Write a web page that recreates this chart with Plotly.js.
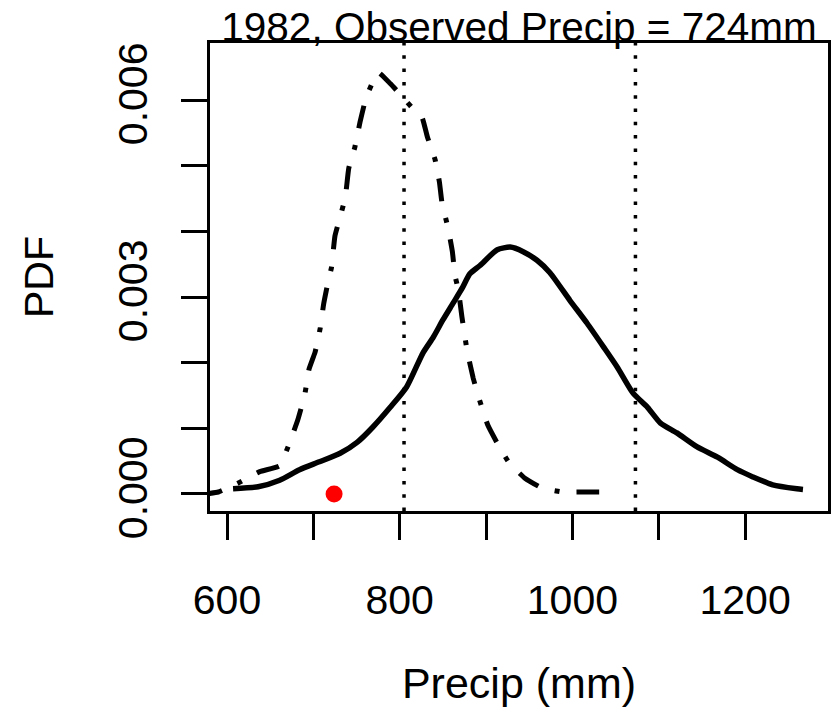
<!DOCTYPE html>
<html>
<head>
<meta charset="utf-8">
<script src="https://cdn.plot.ly/plotly-3.0.1.min.js"></script>
<style>html,body{margin:0;padding:0;background:#fff;}#chart{width:833px;height:718px;}</style>
</head>
<body>
<div id="chart"></div>
<script>
// Solid curve (PDF)
const solidX = [607, 636, 661, 684, 707, 731, 751, 769, 789, 808, 827, 839, 850, 862, 873, 881, 893, 913, 928, 943, 959, 974, 997, 1017, 1036, 1052, 1070, 1087, 1102, 1121, 1144, 1168, 1191, 1209, 1232, 1260, 1267];
const solidY = [0.00008, 0.00011, 0.00021, 0.00037, 0.00049, 0.00062, 0.00079, 0.00102, 0.00132, 0.00163, 0.00215, 0.00239, 0.00265, 0.00291, 0.00315, 0.00335, 0.00348, 0.00372, 0.00376, 0.00369, 0.00356, 0.00337, 0.00295, 0.00260, 0.00224, 0.00193, 0.00154, 0.00132, 0.00108, 0.00093, 0.00072, 0.00056, 0.00037, 0.00026, 0.00014, 0.00008, 0.00007];
// Dash-dot curve
const dashX = [575, 590, 612, 638, 661, 671, 682, 690, 695, 702, 708, 712, 717, 721, 725, 731, 737, 741, 748, 754, 761, 775, 789, 803, 820, 826, 832, 841, 846, 849, 856, 861, 864, 868, 872, 878, 885, 892, 902, 914, 927, 945, 965, 989, 1017, 1044];
const dashY = [0.00000, 0.00003, 0.00016, 0.00034, 0.00043, 0.00073, 0.00113, 0.00151, 0.00190, 0.00216, 0.00253, 0.00290, 0.00323, 0.00345, 0.00393, 0.00422, 0.00452, 0.00496, 0.00528, 0.00566, 0.00603, 0.00642, 0.00625, 0.00605, 0.00580, 0.00573, 0.00544, 0.00509, 0.00475, 0.00443, 0.00405, 0.00369, 0.00333, 0.00310, 0.00270, 0.00219, 0.00177, 0.00145, 0.00105, 0.00075, 0.00047, 0.00024, 0.00009, 0.00003, 0.00003, 0.00003];
// Vertical reference lines
const vlines = [805, 1073];
// Observed value
const observed = 724;
// Ticks
const xTickVals = [600, 700, 800, 900, 1000, 1100, 1200];
const xTickText = ['600', '', '800', '', '1000', '', '1200'];
const yTickVals = [0, 0.001, 0.002, 0.003, 0.004, 0.005, 0.006];
const yTickText = ['0.000', '', '', '0.003', '', '', '0.006'];

const yRange = [-0.000259, 0.006868];
const FONT = '"Liberation Sans", Arial, sans-serif';

// dot-dash pattern (R lty 4), phase starting mid-dash
let dd = ['17px', '17px', '5px', '17px'];
for (let i = 0; i < 40; i++) dd.push('23px', '17px', '5px', '17px');

const traces = [
  {x: solidX, y: solidY, mode: 'lines', line: {color: '#000', width: 5.5, shape: 'spline', smoothing: 0.6}, hoverinfo: 'skip'},
  {x: dashX, y: dashY, mode: 'lines', line: {color: '#000', width: 5, dash: dd.join(','), shape: 'spline', smoothing: 0.4}, hoverinfo: 'skip'}
];
vlines.forEach(v => traces.push({x: [v, v], y: yRange, mode: 'lines', line: {color: '#000', width: 3.5, dash: '3.5px,9.8px'}, hoverinfo: 'skip'}));
traces.push({x: [observed], y: [0], mode: 'markers', marker: {color: '#ff0000', size: 17}, cliponaxis: false, hoverinfo: 'skip'});

const layout = {
  width: 833, height: 718,
  margin: {l: 210, r: 5, t: 43, b: 207},
  paper_bgcolor: '#fff', plot_bgcolor: '#fff',
  showlegend: false,
  font: {family: FONT, color: '#000', size: 41},
  title: {text: '1982, Observed Precip = 724mm', font: {family: FONT, size: 40.5, color: '#000'},
          x: 0.5, xref: 'paper', xanchor: 'center', y: 1 - 27/718, yref: 'container', yanchor: 'middle'},
  xaxis: {
    range: [580.3, 1296], autorange: false,
    tickvals: xTickVals, ticktext: xTickText,
    ticks: 'outside', ticklen: 26, tickwidth: 3, tickcolor: '#000',
    showline: true, linewidth: 3, linecolor: '#000', mirror: true,
    showgrid: false, zeroline: false,
    tickfont: {family: FONT, size: 41, color: '#000'},
    ticklabelstandoff: 25,
    title: {text: 'Precip (mm)', font: {family: FONT, size: 43, color: '#000'}, standoff: 46}
  },
  yaxis: {
    range: yRange, autorange: false,
    tickvals: yTickVals, ticktext: yTickText, tickangle: -90,
    ticks: 'outside', ticklen: 26, tickwidth: 3, tickcolor: '#000',
    showline: true, linewidth: 3, linecolor: '#000', mirror: true,
    showgrid: false, zeroline: false,
    tickfont: {family: FONT, size: 41, color: '#000'},
    ticklabelstandoff: 18,
    title: {text: 'PDF', font: {family: FONT, size: 41, color: '#000'}, standoff: 44}
  }
};

Plotly.newPlot('chart', traces, layout, {staticPlot: true, displayModeBar: false});
</script>
</body>
</html>
